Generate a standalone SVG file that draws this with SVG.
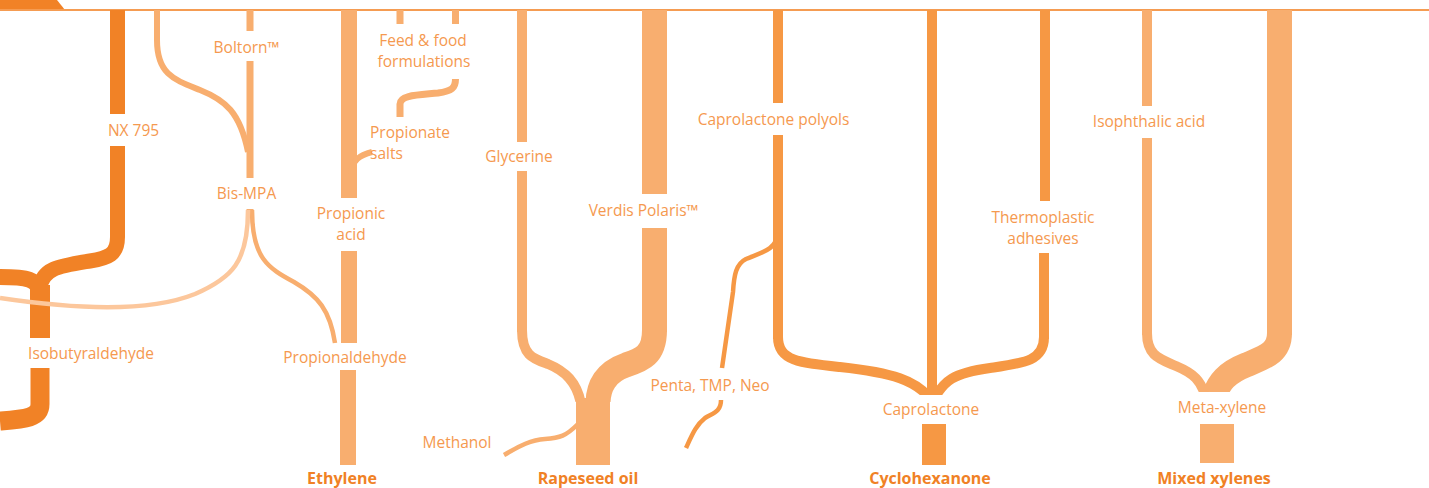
<svg xmlns="http://www.w3.org/2000/svg" width="1429" height="488" viewBox="0 0 1429 488">
  <defs>
    <style>
      .lbl { font-family: "Open Sans", "Noto Sans", "Liberation Sans", sans-serif; font-size: 15.5px; fill: #F5994F; text-anchor: middle; }
      .lbl-l { text-anchor: start; }
      .src { font-family: "Open Sans", "Noto Sans", "Liberation Sans", sans-serif; font-size: 16px; font-weight: 700; fill: #F08125; text-anchor: middle; }
      .flow { fill: none; stroke-linecap: butt; stroke-linejoin: round; }
      .dark { stroke: #F18226; }
      .mid { stroke: #F69844; }
      .light { stroke: #F8AE6F; }
      .pale { stroke: #FCC79C; }
      .f-dark { fill: #F18226; }
      .f-mid { fill: #F69844; }
      .f-light { fill: #F8AE6F; }
    </style>
    <clipPath id="clip-capro"><rect x="700" y="0" width="400" height="395"/></clipPath>
    <clipPath id="clip-meta"><rect x="1100" y="0" width="250" height="392"/></clipPath>
    <clipPath id="clip-rape"><rect x="480" y="0" width="220" height="402"/></clipPath>
  </defs>

  <!-- header rule and tab -->
  <polygon points="0,0 57,0 65,10 0,10" class="f-dark"/>
  <line x1="0" y1="10" x2="1429" y2="10" stroke="#F59C52" stroke-width="1.8"/>

  <!-- all flow lines -->
  <g id="connectors">
    <!-- isobutyraldehyde family -->
    <path class="flow dark" stroke-width="15" d="M117.5,10 V114 M117.5,146 V237"/>
    <path class="flow dark" stroke-width="15" d="M117.5,237 C117.5,255 108,258 90,261 C60,266 42,268 40,288"/>
    <path class="flow dark" stroke-width="16" d="M0,277 C25,277 40,278 40,296"/>
    <path class="flow dark" stroke-width="20" d="M40,285 V338"/>
    <path class="flow dark" stroke-width="19" d="M40,368 V404 C40,418 25,419 0,421"/>

    <!-- Boltorn / Bis-MPA -->
    <path class="flow light" stroke-width="6" d="M157,10 V40 C157,75 175,80 200,90 C225,100 240,112 248,152"/>
    <path class="flow light" stroke-width="7" d="M250,10 V31 M250,61 V178 M250,209 V214"/>
    <path class="flow light" stroke-width="4.5" d="M252,210 C252,258 268,268 294,282 C318,296 330,310 335,343"/>
    <path class="flow pale" stroke-width="4.5" d="M248,210 C248,262 232,278 195,294 C150,312 80,310 0,298"/>

    <!-- Ethylene family -->
    <path class="flow light" stroke-width="16" d="M349,10 V198 M349,251 V343 M348,370 V465"/>
    <path class="flow light" stroke-width="6" d="M351,174 C352,160 360,155 372,152"/>
    <path class="flow light" stroke-width="7" d="M400,10 V24 M455.5,10 V24"/>
    <path class="flow light" stroke-width="7" d="M400,117 V104 C400,95 418,95 438,93 C452,91 455.5,88 455.5,79"/>

    <!-- Rapeseed oil family -->
    <path class="flow light" stroke-width="10" d="M522,10 V142 M522,171 V332"/>
    <path class="flow light" stroke-width="25" d="M654.5,10 V194 M654.5,228 V332"/>
    <g clip-path="url(#clip-rape)">
      <path class="flow light" stroke-width="10" d="M522,330 C522,356 534,359 548,364 C565,371 577,382 581,404"/>
      <path class="flow light" stroke-width="25" d="M654.5,330 C654.5,356 641,360 626,365 C606,372 598,386 598,404"/>
    </g>
    <rect x="576" y="398" width="34" height="67" class="f-light"/>
    <path class="flow light" stroke-width="4.5" d="M504,455 C515,449 528,440 545,439 C560,438 566,436 578,424"/>

    <!-- Cyclohexanone family -->
    <path class="flow mid" stroke-width="10" d="M778,10 V103 M778,135 V339"/>
    <path class="flow mid" stroke-width="4.5" d="M778,233 C777,250 760,253 746,259 C736,264 734,275 733,292 L722,368"/>
    <path class="flow mid" stroke-width="4.5" d="M721,400 C721,412 713,413 705,418 C696,425 692,435 686,448"/>
    <path class="flow mid" stroke-width="10" d="M932,10 V395"/>
    <path class="flow mid" stroke-width="10" d="M1045,10 V201 M1044,253 V339"/>
    <g clip-path="url(#clip-capro)">
      <path class="flow mid" stroke-width="10" d="M778,337 C778,361 800,363 840,367 C895,373 915,381 929,397"/>
      <path class="flow mid" stroke-width="10" d="M1044,337 C1044,361 1024,363 990,368 C952,373 944,382 935,397"/>
    </g>
    <rect x="922" y="424" width="24" height="41" class="f-mid"/>

    <!-- Mixed xylenes family -->
    <path class="flow light" stroke-width="10" d="M1147,10 V106 M1147,138 V335"/>
    <path class="flow light" stroke-width="25" d="M1279.5,10 V335"/>
    <g clip-path="url(#clip-meta)">
      <path class="flow light" stroke-width="10" d="M1147,333 C1147,356 1160,359 1176,366 C1195,374 1200,381 1205,394"/>
      <path class="flow light" stroke-width="25" d="M1279.5,333 C1279.5,353 1265,357 1246,365 C1226,373 1219,383 1215,394"/>
    </g>
    <rect x="1200" y="424" width="34" height="39" class="f-light"/>
  </g>

  <!-- product and intermediate nodes -->
  <g id="node-nx795"><text class="lbl" x="133.5" y="136">NX 795</text></g>
  <g id="node-isobutyraldehyde"><text class="lbl" x="91" y="359">Isobutyraldehyde</text></g>
  <g id="node-boltorn"><text class="lbl" x="246.5" y="53">Boltorn™</text></g>
  <g id="node-bismpa"><text class="lbl" x="246.5" y="199">Bis-MPA</text></g>
  <g id="node-propionic-acid"><text class="lbl" x="351" y="219">Propionic</text><text class="lbl" x="351" y="240">acid</text></g>
  <g id="node-propionaldehyde"><text class="lbl" x="345" y="363">Propionaldehyde</text></g>
  <g id="node-feed-food"><text class="lbl" x="423" y="46">Feed &amp; food</text><text class="lbl" x="424" y="67">formulations</text></g>
  <g id="node-propionate-salts"><text class="lbl lbl-l" x="370" y="138">Propionate</text><text class="lbl lbl-l" x="370" y="159">salts</text></g>
  <g id="node-ethylene"><text class="src" x="342" y="484">Ethylene</text></g>

  <g id="node-glycerine"><text class="lbl" x="519" y="162">Glycerine</text></g>
  <g id="node-verdis"><text class="lbl" x="643.5" y="216">Verdis Polaris™</text></g>
  <g id="node-methanol"><text class="lbl" x="457" y="448">Methanol</text></g>
  <g id="node-rapeseed"><text class="src" x="588" y="484">Rapeseed oil</text></g>

  <g id="node-penta"><text class="lbl" x="710" y="391">Penta, TMP, Neo</text></g>
  <g id="node-capro-polyols"><text class="lbl" x="773.5" y="125">Caprolactone polyols</text></g>
  <g id="node-thermoplastic"><text class="lbl" x="1043" y="223">Thermoplastic</text><text class="lbl" x="1043" y="244">adhesives</text></g>
  <g id="node-caprolactone"><text class="lbl" x="931" y="415">Caprolactone</text></g>
  <g id="node-cyclohexanone"><text class="src" x="930" y="484">Cyclohexanone</text></g>

  <g id="node-isophthalic"><text class="lbl" x="1149" y="127">Isophthalic acid</text></g>
  <g id="node-metaxylene"><text class="lbl" x="1222" y="413">Meta-xylene</text></g>
  <g id="node-mixed-xylenes"><text class="src" x="1214" y="484">Mixed xylenes</text></g>
</svg>
